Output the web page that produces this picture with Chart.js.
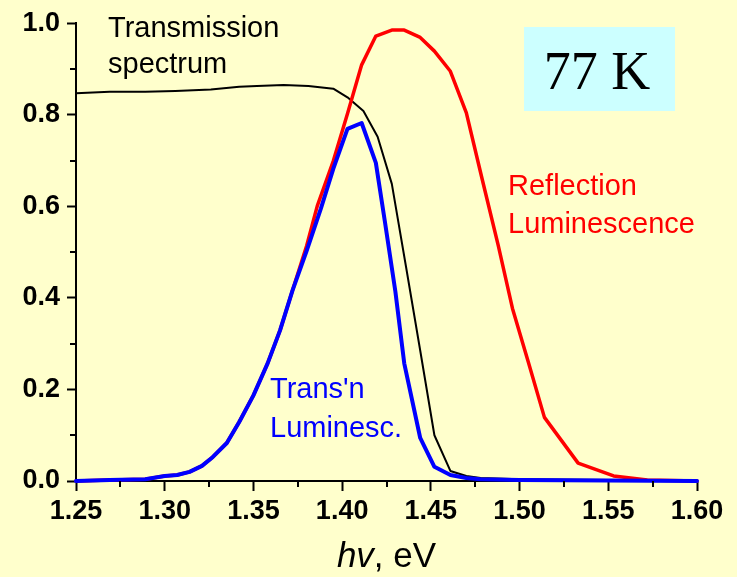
<!DOCTYPE html>
<html>
<head>
<meta charset="utf-8">
<title>77 K spectra</title>
<script src="https://cdn.jsdelivr.net/npm/chart.js@4/dist/chart.umd.min.js"></script>
<style>
    html, body {
        margin: 0;
        padding: 0;
        background: #FFFFCC;
    }
    #wrap {
        width: 737px;
        height: 577px;
    }
</style>
</head>
<body>
<div id="wrap">
    <canvas id="spectraChart" width="737" height="577"></canvas>
</div>
<script>
// photon energy (eV) and normalised intensities for each curve
const transEnergy = [1.25, 1.269, 1.289, 1.306, 1.326, 1.342, 1.352, 1.367, 1.381, 1.395, 1.403, 1.412, 1.420, 1.428, 1.436, 1.444, 1.452, 1.461, 1.470, 1.478, 1.50, 1.55, 1.60];
const transValues = [0.847, 0.850, 0.850, 0.852, 0.855, 0.861, 0.863, 0.865, 0.863, 0.857, 0.838, 0.808, 0.752, 0.649, 0.468, 0.285, 0.100, 0.022, 0.011, 0.0065, 0.004, 0.002, 0.001];

const reflEnergy = [1.25, 1.269, 1.289, 1.300, 1.307, 1.314, 1.321, 1.327, 1.335, 1.342, 1.350, 1.358, 1.365, 1.372, 1.380, 1.386, 1.395, 1.403, 1.411, 1.419, 1.428, 1.435, 1.444, 1.452, 1.461, 1.470, 1.479, 1.488, 1.496, 1.505, 1.514, 1.533, 1.553, 1.572, 1.60];
const reflValues = [0, 0.002, 0.004, 0.011, 0.013, 0.020, 0.033, 0.052, 0.083, 0.129, 0.187, 0.257, 0.329, 0.416, 0.514, 0.601, 0.699, 0.802, 0.909, 0.972, 0.985, 0.985, 0.969, 0.939, 0.895, 0.804, 0.658, 0.514, 0.377, 0.259, 0.139, 0.039, 0.011, 0.002, 0];

const lumEnergy = [1.25, 1.269, 1.289, 1.300, 1.307, 1.314, 1.321, 1.327, 1.335, 1.342, 1.350, 1.358, 1.365, 1.372, 1.380, 1.388, 1.395, 1.403, 1.411, 1.419, 1.424, 1.430, 1.435, 1.444, 1.452, 1.461, 1.470, 1.478, 1.50, 1.55, 1.60];
const lumValues = [0, 0.002, 0.004, 0.011, 0.013, 0.020, 0.033, 0.052, 0.083, 0.129, 0.187, 0.257, 0.329, 0.416, 0.503, 0.595, 0.682, 0.769, 0.782, 0.695, 0.569, 0.414, 0.257, 0.094, 0.031, 0.013, 0.0065, 0.004, 0.002, 0.001, 0];

const xTicks = [1.25, 1.30, 1.35, 1.40, 1.45, 1.50, 1.55, 1.60];
const yTicks = [0.0, 0.2, 0.4, 0.6, 0.8, 1.0];
const xMinor = [1.275, 1.325, 1.375, 1.425, 1.475, 1.525, 1.575];
const yMinor = [0.1, 0.3, 0.5, 0.7, 0.9];

function toPoints(xs, ys) {
    return xs.map((x, i) => ({ x: x, y: ys[i] }));
}

const sans = "'Liberation Sans', Arial, Helvetica, sans-serif";

// short ticks between the labelled ones
const minorTicks = {
    id: "minorTicks",
    afterDraw(chart) {
        const ctx = chart.ctx;
        const area = chart.chartArea;
        const xs = chart.scales.x;
        const ys = chart.scales.y;
        ctx.save();
        ctx.strokeStyle = "#000";
        ctx.lineWidth = 2;
        yMinor.forEach(v => {
            const py = Math.round(ys.getPixelForValue(v));
            ctx.beginPath();
            ctx.moveTo(area.left - 6, py);
            ctx.lineTo(area.left, py);
            ctx.stroke();
        });
        xMinor.forEach(v => {
            const px = Math.round(xs.getPixelForValue(v));
            ctx.beginPath();
            ctx.moveTo(px, area.bottom);
            ctx.lineTo(px, area.bottom + 6);
            ctx.stroke();
        });
        ctx.restore();
    }
};

// curve labels, temperature box and the axis title
const labels = {
    id: "labels",
    afterDraw(chart) {
        const ctx = chart.ctx;
        ctx.save();
        ctx.textAlign = "left";
        ctx.textBaseline = "alphabetic";
        ctx.font = "29px " + sans;

        ctx.fillStyle = "#000000";
        ctx.fillText("Transmission", 108, 37);
        ctx.fillText("spectrum", 108, 73);

        ctx.fillStyle = "#FF0000";
        ctx.fillText("Reflection", 508, 195);
        ctx.fillText("Luminescence", 508, 233);

        ctx.fillStyle = "#0000FF";
        ctx.fillText("Trans'n", 270, 398);
        ctx.fillText("Luminesc.", 270, 437);

        ctx.fillStyle = "#CCFFFF";
        ctx.fillRect(524, 27, 151, 84);
        ctx.fillStyle = "#000000";
        ctx.textAlign = "center";
        ctx.font = "54px 'Liberation Serif', 'Times New Roman', serif";
        ctx.fillText("77 K", 597, 89);

        // "hv" in italics followed by ", eV"
        const italic = "italic 35px " + sans;
        const upright = "35px " + sans;
        ctx.textAlign = "left";
        ctx.font = italic;
        const w1 = ctx.measureText("hv").width;
        ctx.font = upright;
        const w2 = ctx.measureText(", eV").width;
        const x0 = (chart.chartArea.left + chart.chartArea.right) / 2 - (w1 + w2) / 2;
        ctx.font = italic;
        ctx.fillText("hv", x0, 567);
        ctx.font = upright;
        ctx.fillText(", eV", x0 + w1, 567);
        ctx.restore();
    }
};

const ctx = document.getElementById("spectraChart").getContext("2d");

new Chart(ctx, {
    type: "line",
    data: {
        datasets: [
            {
                label: "Trans'n Luminesc.",
                data: toPoints(lumEnergy, lumValues),
                borderColor: "#0000FF",
                borderWidth: 4
            },
            {
                label: "Reflection Luminescence",
                data: toPoints(reflEnergy, reflValues),
                borderColor: "#FF0000",
                borderWidth: 3.5
            },
            {
                label: "Transmission spectrum",
                data: toPoints(transEnergy, transValues),
                borderColor: "#000000",
                borderWidth: 2
            }
        ]
    },
    options: {
        responsive: false,
        animation: false,
        layout: {
            padding: { top: 22, right: 40, left: 0, bottom: 0 }
        },
        elements: {
            point: { radius: 0 },
            line: { tension: 0, fill: false, borderJoinStyle: "round", borderCapStyle: "round" }
        },
        datasets: {
            line: { clip: false }
        },
        plugins: {
            legend: { display: false },
            tooltip: { enabled: false }
        },
        scales: {
            x: {
                type: "linear",
                min: 1.25,
                max: 1.60,
                afterBuildTicks: scale => {
                    scale.ticks = xTicks.map(v => ({ value: v }));
                },
                afterFit: scale => {
                    scale.height = 96;
                },
                border: { color: "#000", width: 2 },
                grid: {
                    drawOnChartArea: false,
                    tickLength: 10,
                    tickColor: "#000",
                    tickWidth: 2
                },
                ticks: {
                    color: "#000",
                    padding: 4,
                    maxRotation: 0,
                    font: { family: sans, size: 27, weight: "bold" },
                    callback: v => v.toFixed(2)
                }
            },
            y: {
                type: "linear",
                min: 0,
                max: 1.0,
                afterBuildTicks: scale => {
                    scale.ticks = yTicks.map(v => ({ value: v }));
                },
                afterFit: scale => {
                    scale.width = 76;
                },
                border: { color: "#000", width: 2 },
                grid: {
                    drawOnChartArea: false,
                    tickLength: 9,
                    tickColor: "#000",
                    tickWidth: 2
                },
                ticks: {
                    color: "#000",
                    padding: 7,
                    font: { family: sans, size: 27, weight: "bold" },
                    callback: v => v.toFixed(1)
                }
            }
        }
    },
    plugins: [minorTicks, labels]
});
</script>
</body>
</html>
